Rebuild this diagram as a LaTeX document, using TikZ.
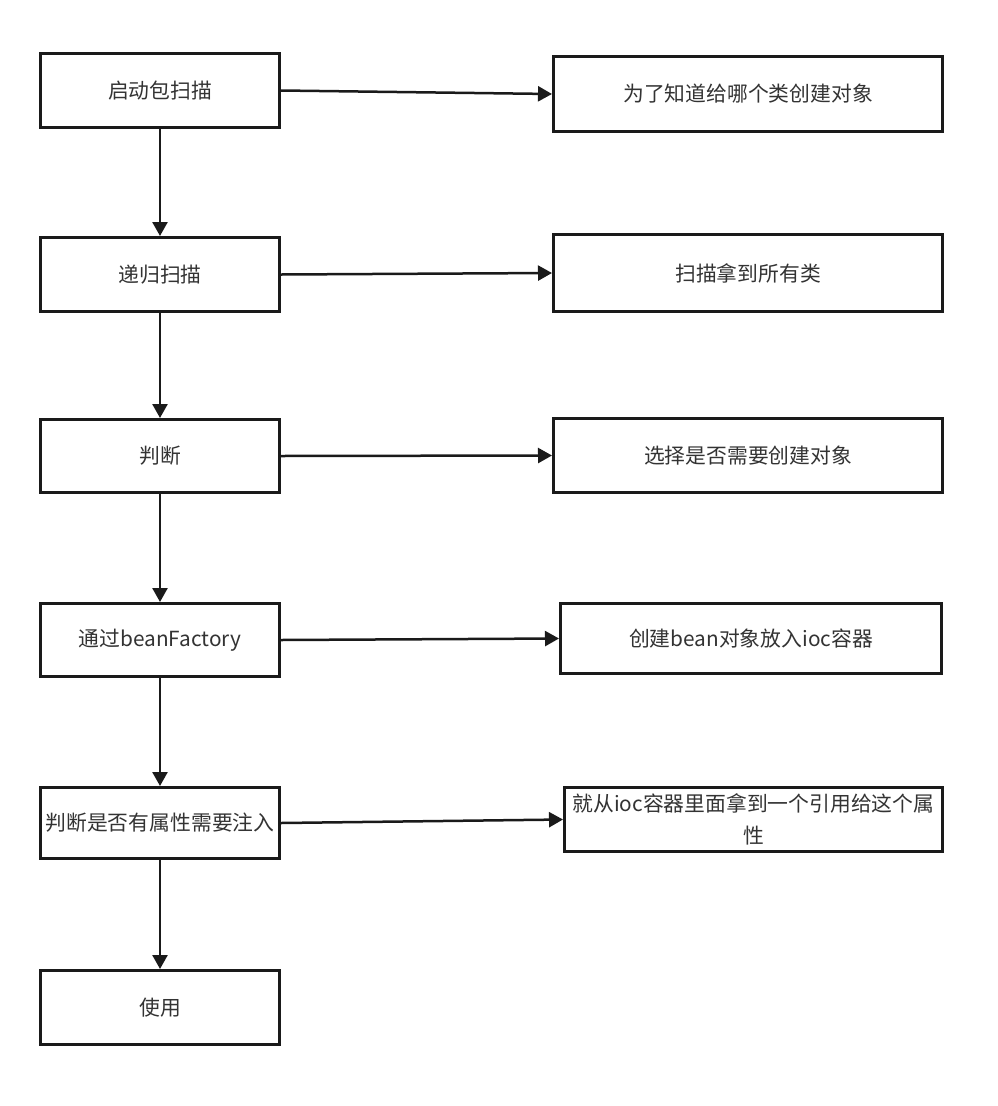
\documentclass[tikz,border=0pt]{standalone}
\usepackage{fontspec}
\setmainfont{Noto Sans CJK SC}
\usetikzlibrary{arrows.meta}
\definecolor{txt}{HTML}{333333}
\definecolor{ln}{HTML}{1A1A1A}
\tikzset{
  box/.style={draw=ln, line width=3bp, fill=white, rectangle, inner sep=1bp,
    text=txt, font=\fontsize{20.8bp}{32bp}\selectfont, align=center},
  conn/.style={draw=ln, line width=2.5bp, -{Triangle[length=14bp,width=15bp]}}
}
\begin{document}
\begin{tikzpicture}[x=1bp,y=-1bp]
\useasboundingbox (0,0) rectangle (998,1106);
% left column
\node[box, minimum width=239bp, minimum height=74bp] (l1) at (160,90.5) {启动包扫描};
\node[box, minimum width=239bp, minimum height=74bp] (l2) at (160,274.5) {递归扫描};
\node[box, minimum width=239bp, minimum height=73bp] (l3) at (160,456) {判断};
\node[box, minimum width=239bp, minimum height=73bp] (l4) at (160,640) {通过beanFactory};
\node[box, minimum width=239bp, minimum height=71bp] (l5) at (160,823) {判断是否有属性需要注入};
\node[box, minimum width=239bp, minimum height=74bp] (l6) at (160,1007.5) {使用};
% right column
\node[box, minimum width=389bp, minimum height=75bp] (r1) at (748,94) {为了知道给哪个类创建对象};
\node[box, minimum width=389bp, minimum height=77bp] (r2) at (748,273) {扫描拿到所有类};
\node[box, minimum width=389bp, minimum height=74bp] (r3) at (748,455.5) {选择是否需要创建对象};
\node[box, minimum width=381bp, minimum height=70bp] (r4) at (751,638.5) {创建bean对象放入ioc容器};
\node[box, minimum width=378bp, minimum height=64bp] (r5) at (753.5,819.5) {就从ioc容器里面拿到一个引用给这个属\\性};
% vertical connectors
\draw[conn] (l1.south) -- (l2.north);
\draw[conn] (l2.south) -- (l3.north);
\draw[conn] (l3.south) -- (l4.north);
\draw[conn] (l4.south) -- (l5.north);
\draw[conn] (l5.south) -- (l6.north);
% horizontal connectors
\draw[conn] (l1.east) -- (r1.west);
\draw[conn] (l2.east) -- (r2.west);
\draw[conn] (l3.east) -- (r3.west);
\draw[conn] (l4.east) -- (r4.west);
\draw[conn] (l5.east) -- (r5.west);
\end{tikzpicture}
\end{document}
